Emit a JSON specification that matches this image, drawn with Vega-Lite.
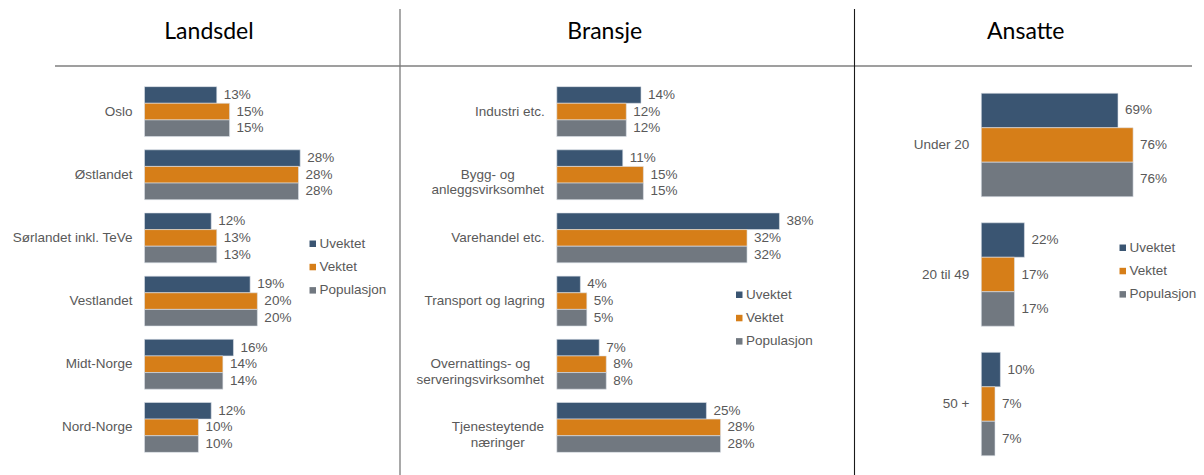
{
  "$schema": "https://vega.github.io/schema/vega-lite/v6.json",
  "width": 1204,
  "height": 475,
  "autosize": {"type": "none"},
  "padding": 0,
  "background": "white",
  "config": {"view": {"stroke": null}},
  "datasets": {
    "landsdel": [
      {"kategori": "Oslo", "serie": "Uvektet", "andel": 0.130},
      {"kategori": "Oslo", "serie": "Vektet", "andel": 0.153},
      {"kategori": "Oslo", "serie": "Populasjon", "andel": 0.153},
      {"kategori": "Østlandet", "serie": "Uvektet", "andel": 0.280},
      {"kategori": "Østlandet", "serie": "Vektet", "andel": 0.277},
      {"kategori": "Østlandet", "serie": "Populasjon", "andel": 0.277},
      {"kategori": "Sørlandet inkl. TeVe", "serie": "Uvektet", "andel": 0.120},
      {"kategori": "Sørlandet inkl. TeVe", "serie": "Vektet", "andel": 0.130},
      {"kategori": "Sørlandet inkl. TeVe", "serie": "Populasjon", "andel": 0.130},
      {"kategori": "Vestlandet", "serie": "Uvektet", "andel": 0.190},
      {"kategori": "Vestlandet", "serie": "Vektet", "andel": 0.203},
      {"kategori": "Vestlandet", "serie": "Populasjon", "andel": 0.203},
      {"kategori": "Midt-Norge", "serie": "Uvektet", "andel": 0.160},
      {"kategori": "Midt-Norge", "serie": "Vektet", "andel": 0.141},
      {"kategori": "Midt-Norge", "serie": "Populasjon", "andel": 0.141},
      {"kategori": "Nord-Norge", "serie": "Uvektet", "andel": 0.120},
      {"kategori": "Nord-Norge", "serie": "Vektet", "andel": 0.097},
      {"kategori": "Nord-Norge", "serie": "Populasjon", "andel": 0.097}
    ],
    "bransje": [
      {"kategori": "Industri etc.", "serie": "Uvektet", "andel": 0.143},
      {"kategori": "Industri etc.", "serie": "Vektet", "andel": 0.118},
      {"kategori": "Industri etc.", "serie": "Populasjon", "andel": 0.118},
      {"kategori": "Bygg- og\nanleggsvirksomhet", "serie": "Uvektet", "andel": 0.112},
      {"kategori": "Bygg- og\nanleggsvirksomhet", "serie": "Vektet", "andel": 0.147},
      {"kategori": "Bygg- og\nanleggsvirksomhet", "serie": "Populasjon", "andel": 0.147},
      {"kategori": "Varehandel etc.", "serie": "Uvektet", "andel": 0.378},
      {"kategori": "Varehandel etc.", "serie": "Vektet", "andel": 0.323},
      {"kategori": "Varehandel etc.", "serie": "Populasjon", "andel": 0.323},
      {"kategori": "Transport og lagring", "serie": "Uvektet", "andel": 0.040},
      {"kategori": "Transport og lagring", "serie": "Vektet", "andel": 0.051},
      {"kategori": "Transport og lagring", "serie": "Populasjon", "andel": 0.051},
      {"kategori": "Overnattings- og\nserveringsvirksomhet", "serie": "Uvektet", "andel": 0.072},
      {"kategori": "Overnattings- og\nserveringsvirksomhet", "serie": "Vektet", "andel": 0.084},
      {"kategori": "Overnattings- og\nserveringsvirksomhet", "serie": "Populasjon", "andel": 0.084},
      {"kategori": "Tjenesteytende\nnæringer", "serie": "Uvektet", "andel": 0.254},
      {"kategori": "Tjenesteytende\nnæringer", "serie": "Vektet", "andel": 0.278},
      {"kategori": "Tjenesteytende\nnæringer", "serie": "Populasjon", "andel": 0.278}
    ],
    "ansatte": [
      {"kategori": "Under 20", "serie": "Uvektet", "andel": 0.688},
      {"kategori": "Under 20", "serie": "Vektet", "andel": 0.764},
      {"kategori": "Under 20", "serie": "Populasjon", "andel": 0.764},
      {"kategori": "20 til 49", "serie": "Uvektet", "andel": 0.217},
      {"kategori": "20 til 49", "serie": "Vektet", "andel": 0.167},
      {"kategori": "20 til 49", "serie": "Populasjon", "andel": 0.167},
      {"kategori": "50 +", "serie": "Uvektet", "andel": 0.096},
      {"kategori": "50 +", "serie": "Vektet", "andel": 0.069},
      {"kategori": "50 +", "serie": "Populasjon", "andel": 0.069}
    ]
  },
  "resolve": {"scale": {"x": "independent", "y": "independent", "yOffset": "independent", "color": "independent"}, "legend": {"color": "independent"}},
  "layer": [
    {
      "data": {"name": "landsdel"},
      "mark": {"type": "bar", "stroke": "#dde2ea", "strokeWidth": 0.6},
      "encoding": {
        "y": {"field": "kategori", "type": "nominal", "axis": null, "scale": {"domain": ["Oslo", "Østlandet", "Sørlandet inkl. TeVe", "Vestlandet", "Midt-Norge", "Nord-Norge"], "range": [80, 459], "paddingInner": 0.21, "paddingOuter": 0.105}},
        "yOffset": {"field": "serie", "type": "nominal", "scale": {"domain": ["Uvektet", "Vektet", "Populasjon"], "paddingInner": 0, "paddingOuter": 0}},
        "x": {"field": "andel", "type": "quantitative", "axis": null, "scale": {"domain": [0, 0.5], "range": [144.5, 422.5], "nice": false}},
        "color": {"field": "serie", "type": "nominal", "scale": {"domain": ["Uvektet", "Vektet", "Populasjon"], "range": ["#3a5572", "#d67e18", "#717880"]},
          "legend": {"orient": "none", "legendX": 306, "legendY": 237, "title": null, "symbolType": "square", "symbolSize": 42, "symbolStrokeWidth": 0, "labelFont": "Liberation Sans", "labelFontSize": 13.5, "labelColor": "#595959", "rowPadding": 8.3, "labelOffset": 0, "padding": 0}}
      }
    },
    {
      "data": {"name": "landsdel"},
      "mark": {"type": "text", "align": "left", "baseline": "middle", "dx": 7, "font": "Liberation Sans", "fontSize": 13.5, "color": "#595959"},
      "encoding": {
        "y": {"field": "kategori", "type": "nominal", "axis": null, "scale": {"domain": ["Oslo", "Østlandet", "Sørlandet inkl. TeVe", "Vestlandet", "Midt-Norge", "Nord-Norge"], "range": [80, 459], "paddingInner": 0.21, "paddingOuter": 0.105}},
        "yOffset": {"field": "serie", "type": "nominal", "scale": {"type": "point", "domain": ["Uvektet", "Vektet", "Populasjon"], "padding": 0.5}},
        "x": {"field": "andel", "type": "quantitative", "axis": null, "scale": {"domain": [0, 0.5], "range": [144.5, 422.5], "nice": false}},
        "text": {"field": "andel", "type": "quantitative", "format": ".0%"}
      }
    },
    {
      "data": {"name": "landsdel"},
      "transform": [{"filter": "datum.serie === 'Vektet'"}],
      "mark": {"type": "text", "align": "right", "baseline": "middle", "dx": -12, "font": "Liberation Sans", "fontSize": 13.5, "color": "#595959"},
      "encoding": {
        "y": {"field": "kategori", "type": "nominal", "axis": null, "scale": {"domain": ["Oslo", "Østlandet", "Sørlandet inkl. TeVe", "Vestlandet", "Midt-Norge", "Nord-Norge"], "range": [80, 459], "paddingInner": 0.21, "paddingOuter": 0.105}},
        "x": {"datum": 0, "type": "quantitative", "axis": null, "scale": {"domain": [0, 0.5], "range": [144.5, 422.5], "nice": false}},
        "text": {"field": "kategori", "type": "nominal"}
      }
    },
    {
      "data": {"name": "bransje"},
      "mark": {"type": "bar", "stroke": "#dde2ea", "strokeWidth": 0.6},
      "encoding": {
        "y": {"field": "kategori", "type": "nominal", "axis": null, "scale": {"domain": ["Industri etc.", "Bygg- og\nanleggsvirksomhet", "Varehandel etc.", "Transport og lagring", "Overnattings- og\nserveringsvirksomhet", "Tjenesteytende\nnæringer"], "range": [80, 459], "paddingInner": 0.21, "paddingOuter": 0.105}},
        "yOffset": {"field": "serie", "type": "nominal", "scale": {"domain": ["Uvektet", "Vektet", "Populasjon"], "paddingInner": 0, "paddingOuter": 0}},
        "x": {"field": "andel", "type": "quantitative", "axis": null, "scale": {"domain": [0, 0.5], "range": [556.8, 851.3], "nice": false}},
        "color": {"field": "serie", "type": "nominal", "scale": {"domain": ["Uvektet", "Vektet", "Populasjon"], "range": ["#3a5572", "#d67e18", "#717880"]},
          "legend": {"orient": "none", "legendX": 732.5, "legendY": 288, "title": null, "symbolType": "square", "symbolSize": 42, "symbolStrokeWidth": 0, "labelFont": "Liberation Sans", "labelFontSize": 13.5, "labelColor": "#595959", "rowPadding": 8.3, "labelOffset": 0, "padding": 0}}
      }
    },
    {
      "data": {"name": "bransje"},
      "mark": {"type": "text", "align": "left", "baseline": "middle", "dx": 7, "font": "Liberation Sans", "fontSize": 13.5, "color": "#595959"},
      "encoding": {
        "y": {"field": "kategori", "type": "nominal", "axis": null, "scale": {"domain": ["Industri etc.", "Bygg- og\nanleggsvirksomhet", "Varehandel etc.", "Transport og lagring", "Overnattings- og\nserveringsvirksomhet", "Tjenesteytende\nnæringer"], "range": [80, 459], "paddingInner": 0.21, "paddingOuter": 0.105}},
        "yOffset": {"field": "serie", "type": "nominal", "scale": {"type": "point", "domain": ["Uvektet", "Vektet", "Populasjon"], "padding": 0.5}},
        "x": {"field": "andel", "type": "quantitative", "axis": null, "scale": {"domain": [0, 0.5], "range": [556.8, 851.3], "nice": false}},
        "text": {"field": "andel", "type": "quantitative", "format": ".0%"}
      }
    },
    {
      "data": {"name": "bransje"},
      "transform": [{"filter": "datum.serie === 'Vektet' && indexof(datum.kategori, '\\n') < 0"}],
      "mark": {"type": "text", "align": "right", "baseline": "middle", "dx": -12, "font": "Liberation Sans", "fontSize": 13.5, "color": "#595959"},
      "encoding": {
        "y": {"field": "kategori", "type": "nominal", "axis": null, "scale": {"domain": ["Industri etc.", "Bygg- og\nanleggsvirksomhet", "Varehandel etc.", "Transport og lagring", "Overnattings- og\nserveringsvirksomhet", "Tjenesteytende\nnæringer"], "range": [80, 459], "paddingInner": 0.21, "paddingOuter": 0.105}},
        "x": {"datum": 0, "type": "quantitative", "axis": null, "scale": {"domain": [0, 0.5], "range": [556.8, 851.3], "nice": false}},
        "text": {"field": "kategori", "type": "nominal"}
      }
    },
    {
      "data": {"name": "bransje"},
      "transform": [{"filter": "datum.serie === 'Vektet' && datum.kategori === 'Bygg- og\\nanleggsvirksomhet'"}],
      "mark": {"type": "text", "align": "center", "baseline": "middle", "dx": -69, "lineBreak": "\n", "lineHeight": 15.5, "font": "Liberation Sans", "fontSize": 13.5, "color": "#595959"},
      "encoding": {
        "y": {"field": "kategori", "type": "nominal", "axis": null, "scale": {"domain": ["Industri etc.", "Bygg- og\nanleggsvirksomhet", "Varehandel etc.", "Transport og lagring", "Overnattings- og\nserveringsvirksomhet", "Tjenesteytende\nnæringer"], "range": [80, 459], "paddingInner": 0.21, "paddingOuter": 0.105}},
        "x": {"datum": 0, "type": "quantitative", "axis": null, "scale": {"domain": [0, 0.5], "range": [556.8, 851.3], "nice": false}},
        "text": {"field": "kategori", "type": "nominal"}
      }
    },
    {
      "data": {"name": "bransje"},
      "transform": [{"filter": "datum.serie === 'Vektet' && datum.kategori === 'Overnattings- og\\nserveringsvirksomhet'"}],
      "mark": {"type": "text", "align": "center", "baseline": "middle", "dx": -76.5, "lineBreak": "\n", "lineHeight": 15.5, "font": "Liberation Sans", "fontSize": 13.5, "color": "#595959"},
      "encoding": {
        "y": {"field": "kategori", "type": "nominal", "axis": null, "scale": {"domain": ["Industri etc.", "Bygg- og\nanleggsvirksomhet", "Varehandel etc.", "Transport og lagring", "Overnattings- og\nserveringsvirksomhet", "Tjenesteytende\nnæringer"], "range": [80, 459], "paddingInner": 0.21, "paddingOuter": 0.105}},
        "x": {"datum": 0, "type": "quantitative", "axis": null, "scale": {"domain": [0, 0.5], "range": [556.8, 851.3], "nice": false}},
        "text": {"field": "kategori", "type": "nominal"}
      }
    },
    {
      "data": {"name": "bransje"},
      "transform": [{"filter": "datum.serie === 'Vektet' && datum.kategori === 'Tjenesteytende\\nnæringer'"}],
      "mark": {"type": "text", "align": "center", "baseline": "middle", "dx": -59, "lineBreak": "\n", "lineHeight": 15.5, "font": "Liberation Sans", "fontSize": 13.5, "color": "#595959"},
      "encoding": {
        "y": {"field": "kategori", "type": "nominal", "axis": null, "scale": {"domain": ["Industri etc.", "Bygg- og\nanleggsvirksomhet", "Varehandel etc.", "Transport og lagring", "Overnattings- og\nserveringsvirksomhet", "Tjenesteytende\nnæringer"], "range": [80, 459], "paddingInner": 0.21, "paddingOuter": 0.105}},
        "x": {"datum": 0, "type": "quantitative", "axis": null, "scale": {"domain": [0, 0.5], "range": [556.8, 851.3], "nice": false}},
        "text": {"field": "kategori", "type": "nominal"}
      }
    },
    {
      "data": {"name": "ansatte"},
      "mark": {"type": "bar", "stroke": "#dde2ea", "strokeWidth": 0.6},
      "encoding": {
        "y": {"field": "kategori", "type": "nominal", "axis": null, "scale": {"domain": ["Under 20", "20 til 49", "50 +"], "range": [80.3, 468.7], "paddingInner": 0.2015, "paddingOuter": 0.1}},
        "yOffset": {"field": "serie", "type": "nominal", "scale": {"domain": ["Uvektet", "Vektet", "Populasjon"], "paddingInner": 0, "paddingOuter": 0}},
        "x": {"field": "andel", "type": "quantitative", "axis": null, "scale": {"domain": [0, 1], "range": [981.3, 1180], "nice": false}},
        "color": {"field": "serie", "type": "nominal", "scale": {"domain": ["Uvektet", "Vektet", "Populasjon"], "range": ["#3a5572", "#d67e18", "#717880"]},
          "legend": {"orient": "none", "legendX": 1116, "legendY": 241, "title": null, "symbolType": "square", "symbolSize": 42, "symbolStrokeWidth": 0, "labelFont": "Liberation Sans", "labelFontSize": 13.5, "labelColor": "#595959", "rowPadding": 8.3, "labelOffset": 0, "padding": 0}}
      }
    },
    {
      "data": {"name": "ansatte"},
      "mark": {"type": "text", "align": "left", "baseline": "middle", "dx": 7, "font": "Liberation Sans", "fontSize": 13.5, "color": "#595959"},
      "encoding": {
        "y": {"field": "kategori", "type": "nominal", "axis": null, "scale": {"domain": ["Under 20", "20 til 49", "50 +"], "range": [80.3, 468.7], "paddingInner": 0.2015, "paddingOuter": 0.1}},
        "yOffset": {"field": "serie", "type": "nominal", "scale": {"type": "point", "domain": ["Uvektet", "Vektet", "Populasjon"], "padding": 0.5}},
        "x": {"field": "andel", "type": "quantitative", "axis": null, "scale": {"domain": [0, 1], "range": [981.3, 1180], "nice": false}},
        "text": {"field": "andel", "type": "quantitative", "format": ".0%"}
      }
    },
    {
      "data": {"name": "ansatte"},
      "transform": [{"filter": "datum.serie === 'Vektet'"}],
      "mark": {"type": "text", "align": "right", "baseline": "middle", "dx": -12, "font": "Liberation Sans", "fontSize": 13.5, "color": "#595959"},
      "encoding": {
        "y": {"field": "kategori", "type": "nominal", "axis": null, "scale": {"domain": ["Under 20", "20 til 49", "50 +"], "range": [80.3, 468.7], "paddingInner": 0.2015, "paddingOuter": 0.1}},
        "x": {"datum": 0, "type": "quantitative", "axis": null, "scale": {"domain": [0, 1], "range": [981.3, 1180], "nice": false}},
        "text": {"field": "kategori", "type": "nominal"}
      }
    },
    {
      "data": {"values": [{"tittel": "Landsdel"}]},
      "mark": {"type": "text", "align": "center", "baseline": "alphabetic", "font": "Lato", "fontSize": 23, "color": "#000000"},
      "encoding": {
        "x": {"datum": 209, "type": "quantitative", "axis": null, "scale": {"domain": [0, 1204], "range": [0, 1204], "nice": false}},
        "y": {"datum": 38.5, "type": "quantitative", "axis": null, "scale": {"domain": [0, 475], "range": [0, 475], "nice": false}},
        "text": {"field": "tittel", "type": "nominal"}
      }
    },
    {
      "data": {"values": [{"tittel": "Bransje"}]},
      "mark": {"type": "text", "align": "center", "baseline": "alphabetic", "font": "Lato", "fontSize": 23, "color": "#000000"},
      "encoding": {
        "x": {"datum": 604.7, "type": "quantitative", "axis": null, "scale": {"domain": [0, 1204], "range": [0, 1204], "nice": false}},
        "y": {"datum": 38.5, "type": "quantitative", "axis": null, "scale": {"domain": [0, 475], "range": [0, 475], "nice": false}},
        "text": {"field": "tittel", "type": "nominal"}
      }
    },
    {
      "data": {"values": [{"tittel": "Ansatte"}]},
      "mark": {"type": "text", "align": "center", "baseline": "alphabetic", "font": "Lato", "fontSize": 23, "color": "#000000"},
      "encoding": {
        "x": {"datum": 1025.8, "type": "quantitative", "axis": null, "scale": {"domain": [0, 1204], "range": [0, 1204], "nice": false}},
        "y": {"datum": 38.5, "type": "quantitative", "axis": null, "scale": {"domain": [0, 475], "range": [0, 475], "nice": false}},
        "text": {"field": "tittel", "type": "nominal"}
      }
    },
    {
      "data": {"values": [{"skille": "topp"}]},
      "mark": {"type": "rule", "color": "#404040", "strokeWidth": 1.2},
      "encoding": {
        "x": {"datum": 55, "type": "quantitative", "axis": null, "scale": {"domain": [0, 1204], "range": [0, 1204], "nice": false}},
        "x2": {"datum": 1192},
        "y": {"datum": 66, "type": "quantitative", "axis": null, "scale": {"domain": [0, 475], "range": [0, 475], "nice": false}}
      }
    },
    {
      "data": {"values": [{"skille": "venstre"}]},
      "mark": {"type": "rule", "color": "#7a7a7a", "strokeWidth": 1.3},
      "encoding": {
        "x": {"datum": 400, "type": "quantitative", "axis": null, "scale": {"domain": [0, 1204], "range": [0, 1204], "nice": false}},
        "y": {"datum": 9, "type": "quantitative", "axis": null, "scale": {"domain": [0, 475], "range": [0, 475], "nice": false}},
        "y2": {"datum": 475}
      }
    },
    {
      "data": {"values": [{"skille": "hoyre"}]},
      "mark": {"type": "rule", "color": "#1a1a1a", "strokeWidth": 1.1},
      "encoding": {
        "x": {"datum": 854.5, "type": "quantitative", "axis": null, "scale": {"domain": [0, 1204], "range": [0, 1204], "nice": false}},
        "y": {"datum": 9, "type": "quantitative", "axis": null, "scale": {"domain": [0, 475], "range": [0, 475], "nice": false}},
        "y2": {"datum": 475}
      }
    }
  ]
}
